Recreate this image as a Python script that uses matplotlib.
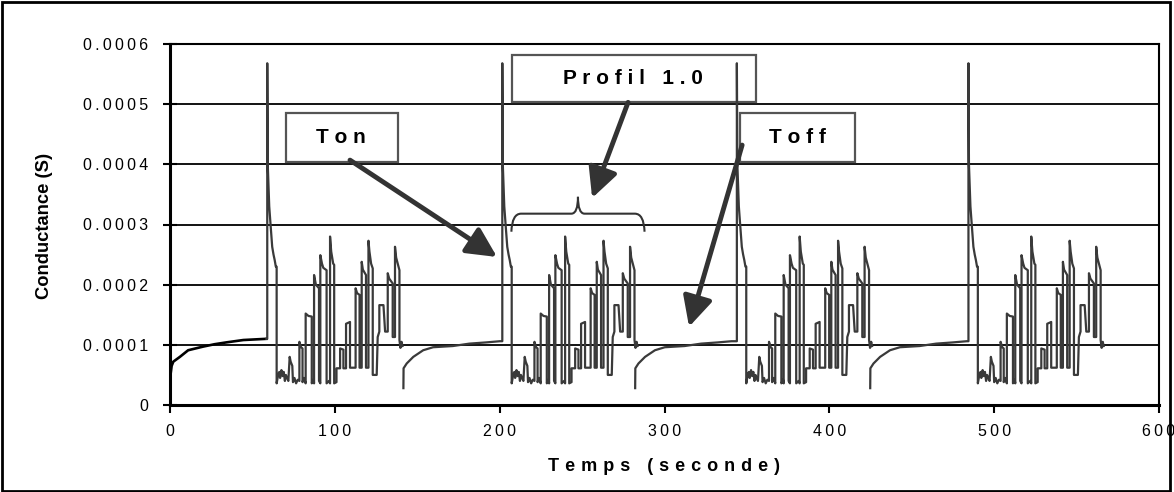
import numpy as np
import matplotlib
matplotlib.use("Agg")
import matplotlib.pyplot as plt
from matplotlib.patches import Rectangle, PathPatch
from matplotlib.path import Path

plt.rcParams['font.family'] = ['Liberation Sans', 'DejaVu Sans']

# --- data (conductance in units of 1e-4 S, time in s) ---
toff_start = [0, 141.6, 282.2, 424.8]
spike_time = [59.0, 201.6, 343.9, 484.4]

# first recovery curve (t = 0 .. first pulse)
toff1_dt = [0, 0.3, 1.0, 2.0, 6.0, 11.0, 20.0, 27.0, 34.0, 44.5, 58.5]
toff1_g = [0.40, 0.50, 0.65, 0.72, 0.80, 0.91, 0.97, 1.01, 1.04, 1.08, 1.10]

# later recovery curves (relative to Toff start)
toff_dt = [0, 0.1, 2.0, 6.0, 12.0, 18.0, 30.0, 40.0, 50.0, 58.5]
toff_g = [0.28, 0.61, 0.69, 0.80, 0.91, 0.96, 0.98, 1.02, 1.04, 1.06]

# Ton spike + "Profil 1.0" pulse train (relative to spike)
prof_dt = [0, 0.3, 1.2, 2.0, 3.0, 3.8, 4.5, 5.2, 5.7, 5.7,
           6.6, 7.3, 7.8, 8.6, 9.3, 10.0, 10.7, 11.3, 12.0, 12.8,
           13.6, 14.2, 15.2, 15.6, 16.5, 17.5, 18.5, 19.5, 19.5, 20.5,
           21.4, 21.4, 22.3, 23.3, 23.3, 25.0, 27.0, 27.0, 28.0, 28.4,
           28.4, 29.5, 31.4, 31.4, 32.2, 32.2, 33.2, 34.0, 36.0, 36.0,
           37.5, 38.1, 38.1, 38.8, 40.0, 40.6, 40.6, 42.0, 42.0, 44.2,
           44.2, 46.2, 46.2, 47.8, 47.8, 50.2, 50.2, 53.6, 53.6, 54.5,
           56.0, 56.0, 57.3, 57.3, 58.0, 59.9, 59.9, 61.4, 61.4, 62.0,
           63.0, 64.0, 64.0, 66.4, 67.0, 68.0, 68.0, 70.5, 71.5, 73.1,
           73.1, 74.0, 76.1, 76.1, 77.5, 77.5, 78.2, 80.2, 80.2, 80.8,
           81.5, 82.0]
prof_g = [5.68, 4.00, 3.30, 3.00, 2.63, 2.50, 2.41, 2.30, 2.30, 0.36,
          0.50, 0.55, 0.45, 0.58, 0.48, 0.55, 0.40, 0.50, 0.45, 0.40,
          0.80, 0.72, 0.65, 0.38, 0.45, 0.36, 0.42, 0.40, 1.05, 0.96,
          0.94, 0.38, 0.45, 0.36, 1.52, 1.48, 1.47, 0.36, 0.42, 0.36,
          2.16, 2.00, 1.94, 0.40, 0.36, 2.49, 2.35, 2.28, 2.24, 0.36,
          0.40, 0.36, 2.80, 2.55, 2.35, 2.33, 0.36, 0.38, 0.61, 0.61,
          0.94, 0.92, 0.61, 0.61, 1.35, 1.38, 0.62, 0.62, 1.94, 1.86,
          1.83, 0.62, 0.62, 2.38, 2.25, 2.16, 0.62, 0.62, 2.73, 2.55,
          2.35, 2.27, 0.50, 0.50, 1.13, 1.22, 1.66, 1.66, 1.22, 1.22,
          2.19, 2.10, 2.02, 1.13, 1.13, 2.63, 2.45, 2.24, 1.08, 0.95,
          1.05, 0.98]

x_ticks = [0, 100, 200, 300, 400, 500, 600]
y_ticks = [0, 0.0001, 0.0002, 0.0003, 0.0004, 0.0005, 0.0006]
y_labels = ['0', '0.0001', '0.0002', '0.0003', '0.0004', '0.0005', '0.0006']


def spaced(s, sep=' '):
    return sep.join(s)


fig = plt.figure(figsize=(11.74, 4.92), dpi=100)
ax = fig.add_axes([170/1174, 1-405/492, 989/1174, 361/492])

line_col = '#3a3a3a'
for i in range(len(toff_start)):
    if i == 0:
        tt = [toff_start[i] + d for d in toff1_dt]
        gg = list(toff1_g)
        ax.plot(tt, np.array(gg)*1e-4, color='black', lw=1.9, zorder=3)
        k = len(toff1_dt) - 1
    else:
        tt = [toff_start[i] + d for d in toff_dt]
        gg = list(toff_g)
        k = 0
    tt = tt + [spike_time[i]] + [spike_time[i] + d for d in prof_dt]
    gg = gg + [gg[-1]] + prof_g
    ax.plot(tt[k:], np.array(gg[k:])*1e-4, color=line_col, lw=1.6, zorder=3)

ax.set_xlim(0, 600)
ax.set_ylim(0, 0.0006)
ax.set_xticks(x_ticks)
ax.set_xticklabels([spaced(str(v), '\u2009') for v in x_ticks], fontsize=11.5)
ax.set_yticks(y_ticks)
ax.set_yticklabels([spaced(s, '\u2009') for s in y_labels], fontsize=11.5)
ax.tick_params(axis='x', direction='out', length=6, width=1.5, pad=8)
ax.tick_params(axis='y', direction='inout', length=10, width=1.5, pad=10.5)
ax.yaxis.grid(True, color='black', lw=1.3)
ax.set_axisbelow(True)
for side in ['left', 'bottom']:
    ax.spines[side].set_linewidth(2.2)
for side in ['top', 'right']:
    ax.spines[side].set_linewidth(1.5)

ax.set_xlabel(spaced('Temps (seconde)', '\u2004'), fontsize=13, fontweight='bold')
ax.xaxis.set_label_coords(0.5, -0.148)
fig.text(45/1174, 1-226/492, 'Conductance (S)', rotation=90, ha='center',
         va='center', fontsize=13.2, fontweight='bold')

# annotation boxes
box_kw = dict(facecolor='white', edgecolor='#555555', lw=1.6, zorder=2)
ax.add_patch(Rectangle((70.4, 4.04e-4), 67.9, 0.81e-4, **box_kw))
ax.add_patch(Rectangle((207.3, 5.04e-4), 148.5, 0.77e-4, **box_kw))
ax.add_patch(Rectangle((345.9, 4.04e-4), 69.8, 0.81e-4, **box_kw))
txt_kw = dict(ha='center', va='center', fontsize=15, fontweight='bold', zorder=5)
ax.text(103.5, 4.45e-4, spaced('Ton'), **txt_kw)
ax.text(281.0, 5.42e-4, spaced('Profil 1.0'), **txt_kw)
ax.text(380.5, 4.45e-4, spaced('Toff'), **txt_kw)

arrow_kw = dict(arrowstyle='-|>,head_length=1.0,head_width=0.5', lw=3.5,
                color='#333333', mutation_scale=18, shrinkA=0, shrinkB=0)
ax.annotate('', xy=(198.4, 2.46e-4), xytext=(109.2, 4.07e-4),
            arrowprops=arrow_kw, zorder=6)
ax.annotate('', xy=(256.1, 3.44e-4), xytext=(277.9, 5.03e-4),
            arrowprops=arrow_kw, zorder=6)
ax.annotate('', xy=(314.9, 1.30e-4), xytext=(347.1, 4.32e-4),
            arrowprops=arrow_kw, zorder=6)

# curly brace over the profile
verts = [(207.1, 2.88e-4), (207.5, 3.18e-4), (213.0, 3.18e-4),
         (243.5, 3.18e-4),
         (247.5, 3.18e-4), (247.5, 3.46e-4),
         (247.5, 3.18e-4), (251.5, 3.18e-4),
         (282.0, 3.18e-4),
         (287.5, 3.18e-4), (287.9, 2.88e-4)]
codes = [Path.MOVETO, Path.CURVE3, Path.CURVE3, Path.LINETO,
         Path.CURVE3, Path.CURVE3, Path.CURVE3, Path.CURVE3,
         Path.LINETO, Path.CURVE3, Path.CURVE3]
ax.add_patch(PathPatch(Path(verts, codes), fill=False, ec='#333333', lw=1.5, zorder=4))

# outer frame
fig.patches.append(Rectangle((0.002, 0.003), 0.995, 0.993, transform=fig.transFigure,
                             fill=False, ec='black', lw=2))

fig.savefig('out.png', dpi=100)
